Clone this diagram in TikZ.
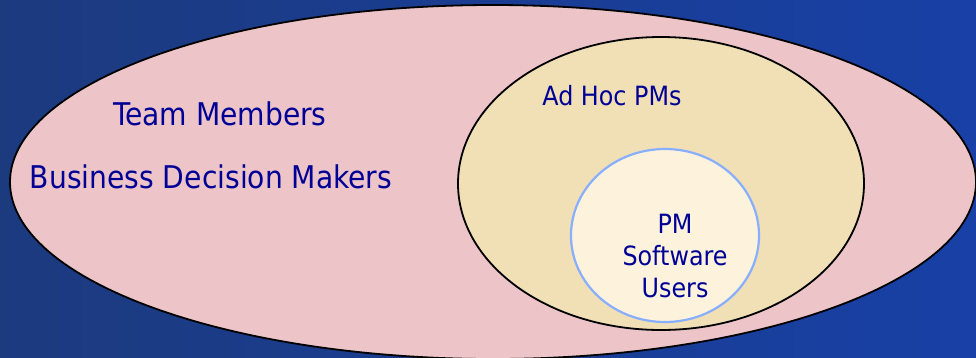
\documentclass[tikz,border=0pt]{standalone}
\usepackage{fontspec}
\setmainfont{DejaVu Sans Condensed}
\begin{document}
\begin{tikzpicture}[x=1pt,y=-1pt]
\definecolor{bgL}{HTML}{1C3A7E}
\definecolor{bgR}{HTML}{1840A6}
\definecolor{pinkfill}{HTML}{EDC4C7}
\definecolor{sandfill}{HTML}{F1DFB6}
\definecolor{creamfill}{HTML}{FDF3DD}
\definecolor{ringblue}{HTML}{88AEFF}
\definecolor{txtblue}{HTML}{000096}
\tikzset{
  lbl/.style={text=txtblue, inner sep=0pt, anchor=base},
  bigtxt/.style={lbl, font=\fontsize{31.3}{36}\selectfont},
  midtxt/.style={lbl, font=\fontsize{26.5}{32}\selectfont},
  setline/.style={line width=1.8pt},
}
\useasboundingbox (0,0) rectangle (976,357);
\shade[left color=bgL, right color=bgR] (0,0) rectangle (976,357);
% outer set
\draw[setline, fill=pinkfill] (493,182) ellipse [x radius=483, y radius=177];
% ad hoc set
\draw[setline, fill=sandfill] (661,183.5) ellipse [x radius=203, y radius=146.5];
% pm software users set
\draw[setline, fill=creamfill, draw=ringblue, line width=2.2pt] (665,235.5) ellipse [x radius=94, y radius=86.5];
\node[bigtxt] (team) at (220,125) {Team Members};
\node[bigtxt] (bdm) at (211,188) {Business Decision Makers};
\node[midtxt] (adhoc) at (612,105) {Ad Hoc PMs};
\node[midtxt] (pm1) at (675,233) {PM};
\node[midtxt] (pm2) at (675,265) {Software};
\node[midtxt] (pm3) at (675,297) {Users};
\end{tikzpicture}
\end{document}
